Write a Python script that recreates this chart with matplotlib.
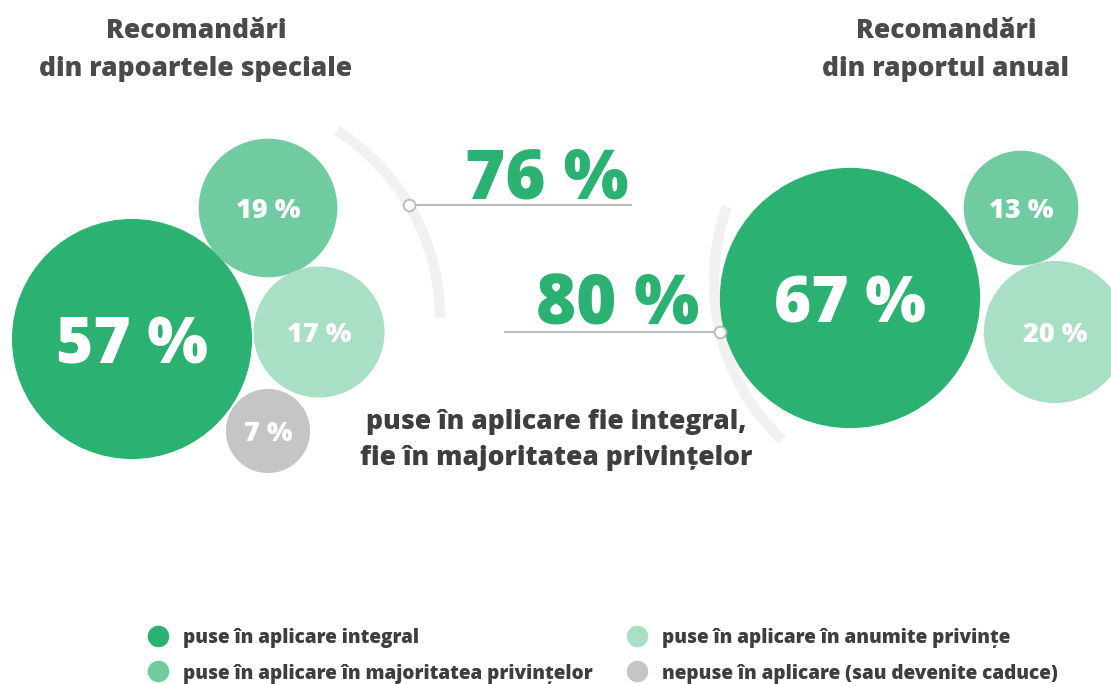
import numpy as np
import matplotlib
matplotlib.use("Agg")
import matplotlib.pyplot as plt
from matplotlib.patches import Circle, Arc

plt.rcParams["font.family"] = ["Open Sans", "DejaVu Sans"]
plt.rcParams["font.weight"] = "bold"

# ─── Data ────────────────────────────────────────────────────────────────────
special_values = [57, 19, 17, 7]     # rapoartele speciale
annual_values  = [67, 13, 20]        # raportul anual
special_total  = 76                  # integral + majoritatea
annual_total   = 80

special_title = "Recomandări\ndin rapoartele speciale"
annual_title  = "Recomandări\ndin raportul anual"
center_text   = "puse în aplicare fie integral,\nfie în majoritatea privințelor"

legend_labels = ["puse în aplicare integral",
                 "puse în aplicare în majoritatea privințelor",
                 "puse în aplicare în anumite privințe",
                 "nepuse în aplicare (sau devenite caduce)"]

# ─── Colours ─────────────────────────────────────────────────────────────────
DARK   = "#2BB272"
MID    = "#70CBA0"
LIGHT  = "#A9E0C5"
GREY   = "#C5C5C5"
ARC    = "#F1F1F1"
LEADER = "#BDBDBD"
TEXT   = "#4A4A4A"
DTEXT  = "#3E3E3E"

special_colors = [DARK, MID, LIGHT, GREY]
annual_colors  = [DARK, MID, LIGHT]
legend_colors  = [DARK, MID, LIGHT, GREY]

# ─── Layout (pixel coordinates, y down) ─────────────────────────────────────
R_SCALE = 15.9   # radius = R_SCALE * sqrt(value)
special_centers = [(132, 339), (268, 208), (319, 332), (268, 431)]
annual_centers  = [(850, 298), (1021, 208), (1055, 332)]
special_fs = [46, 19.5, 19.5, 19.5]
annual_fs  = [46, 19.5, 19.5]
W = 800   # extra-bold

fig = plt.figure(figsize=(11.11, 6.84), dpi=100)
ax = fig.add_axes([0, 0, 1, 1])
ax.set_xlim(0, 1111)
ax.set_ylim(684, 0)
ax.set_aspect("equal")
ax.axis("off")


def bubbles(values, centers, colors, sizes):
    for v, (cx, cy), c, fs in zip(values, centers, colors, sizes):
        ax.add_patch(Circle((cx, cy), R_SCALE * np.sqrt(v), color=c, lw=0, zorder=3))
        ax.text(cx, cy, f"{v} %", color="white", fontsize=fs, fontweight=W,
                ha="center", va="center_baseline", zorder=4)


def arc_with_leader(center, r, t1, t2, t_mark, x_end, value, text_xy):
    ax.add_patch(Arc(center, 2 * r, 2 * r, theta1=t1, theta2=t2,
                     color=ARC, lw=7.5, zorder=1, capstyle="butt"))
    mx = center[0] + r * np.cos(np.radians(t_mark))
    my = center[1] + r * np.sin(np.radians(t_mark))
    ax.plot([mx, x_end], [my, my], color=LEADER, lw=1.6, zorder=2,
            solid_capstyle="butt")
    ax.scatter([mx], [my], s=70, color="white", edgecolor=LEADER, lw=1.4, zorder=5)
    ax.text(text_xy[0], text_xy[1], f"{value} %", color=DARK, fontsize=49.5,
            fontweight=W, ha="center", va="center_baseline", zorder=4)


bubbles(special_values, special_centers, special_colors, special_fs)
bubbles(annual_values, annual_centers, annual_colors, annual_fs)

# left arc (76 %) and right arc (80 %)
arc_with_leader((218, 318), 222, -57.7, 0, -30.6, 632, special_total, (547, 172))
arc_with_leader((934, 281), 220, 133.7, 199.7, 166.7, 504, annual_total, (618, 298))

# titles
ax.text(196, 50, special_title, color=TEXT, fontsize=19, fontweight=W,
        ha="center", va="center", linespacing=1.6)
ax.text(946, 50, annual_title, color=TEXT, fontsize=19, fontweight=W,
        ha="center", va="center", linespacing=1.6)
ax.text(556, 440, center_text, color=DTEXT, fontsize=19, fontweight=W,
        ha="center", va="center", linespacing=1.5)

# legend (two columns, filled column-wise)
leg_x = [158, 158, 637, 637]
leg_y = [636, 671, 636, 671]
for lx, ly, lab, c in zip(leg_x, leg_y, legend_labels, legend_colors):
    ax.scatter([lx], [ly], s=240, color=c, lw=0, zorder=3)
    ax.text(lx + 25, ly, lab, color=DTEXT, fontsize=13.7, fontweight=W,
            ha="left", va="center_baseline")

fig.savefig("out.png", dpi=100)
